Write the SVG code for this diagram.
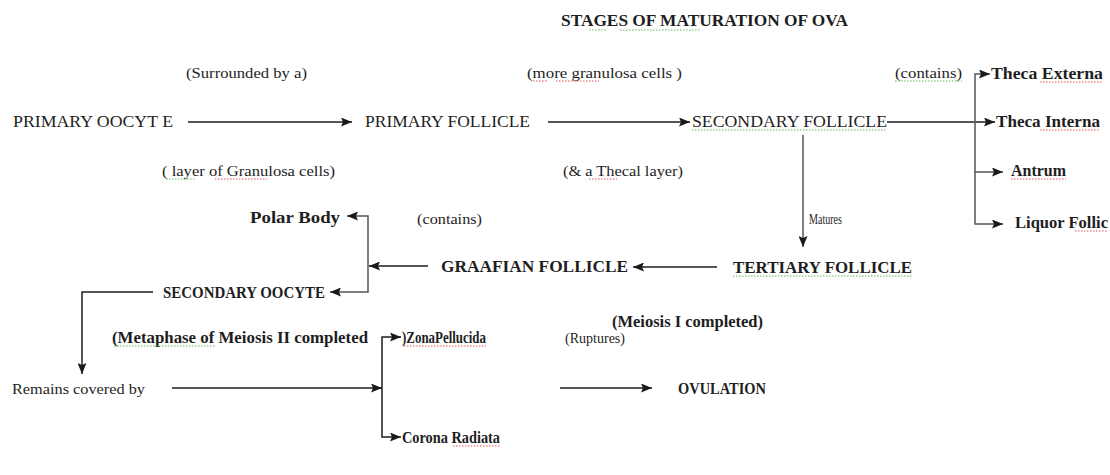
<svg xmlns="http://www.w3.org/2000/svg" width="1110" height="475" viewBox="0 0 1110 475">
<defs>
<marker id="ah" viewBox="0 0 11 9" refX="11" refY="4.5" markerWidth="11" markerHeight="9" markerUnits="userSpaceOnUse" orient="auto"><path d="M0,0 L11,4.5 L0,9 L2,4.5 z" fill="#1a1a1a"/></marker>
<style>
.t text{fill:#1e1e1e}
.b{font-weight:bold;font-size:16.5px}
.r{font-size:15.5px;fill:#2a2a2a}
.n{font-size:17px}
.c{fill:none;stroke:#1e1e1e;stroke-width:1.5}
.v{fill:none;stroke:#555;stroke-width:1.5}
.red{stroke:#e05050;stroke-width:1;stroke-dasharray:1.5 1.5;fill:none}
.grn{stroke:#5cb85c;stroke-width:1;stroke-dasharray:1.5 1.5;fill:none}
</style>
</defs>
<rect width="1110" height="475" fill="#fff"/>
<g class="t" font-family="'Liberation Serif', 'DejaVu Serif', 'Times New Roman', serif">
<g id="title"><text class="b" x="561" y="26" textLength="287" lengthAdjust="spacingAndGlyphs">STAGES OF  MATURATION OF OVA</text></g>
<g id="lbl-surrounded"><text class="r" x="186" y="78" textLength="121" lengthAdjust="spacingAndGlyphs">(Surrounded by a)</text></g>
<g id="lbl-more"><text class="r" x="527" y="78" textLength="155" lengthAdjust="spacingAndGlyphs">(more granulosa cells )</text></g>
<g id="lbl-contains1"><text class="r" x="895" y="78" textLength="67" lengthAdjust="spacingAndGlyphs">(contains)</text></g>
<g id="theca-externa"><text class="b" x="991" y="79" textLength="112" lengthAdjust="spacingAndGlyphs">Theca Externa</text></g>
<g id="primary-oocyte"><text class="n" x="13" y="127" textLength="160" lengthAdjust="spacingAndGlyphs">PRIMARY OOCYT E</text></g>
<g id="primary-follicle"><text class="n" x="365" y="127" textLength="165" lengthAdjust="spacingAndGlyphs">PRIMARY FOLLICLE</text></g>
<g id="secondary-follicle"><text class="n" x="692" y="127" textLength="195" lengthAdjust="spacingAndGlyphs">SECONDARY  FOLLICLE</text></g>
<g id="theca-interna"><text class="b" x="996" y="127" textLength="104" lengthAdjust="spacingAndGlyphs">Theca Interna</text></g>
<g id="lbl-layer"><text class="r" x="162" y="176" textLength="173" lengthAdjust="spacingAndGlyphs">( layer of Granulosa cells)</text></g>
<g id="lbl-thecal"><text class="r" x="563" y="176" textLength="120" lengthAdjust="spacingAndGlyphs">(&amp; a Thecal layer)</text></g>
<g id="antrum"><text class="b" x="1011" y="176" textLength="55" lengthAdjust="spacingAndGlyphs">Antrum</text></g>
<g id="lbl-matures"><text class="r" x="809" y="224" textLength="33" lengthAdjust="spacingAndGlyphs">Matures</text></g>
<g id="liquor"><text class="b" x="1015" y="228" textLength="93" lengthAdjust="spacingAndGlyphs">Liquor Follic</text></g>
<g id="polar-body"><text class="b" x="250" y="223" textLength="90" lengthAdjust="spacingAndGlyphs">Polar Body</text></g>
<g id="lbl-contains2"><text class="r" x="417" y="224" textLength="65" lengthAdjust="spacingAndGlyphs">(contains)</text></g>
<g id="graafian"><text class="b" x="441" y="272" textLength="187" lengthAdjust="spacingAndGlyphs">GRAAFIAN  FOLLICLE</text></g>
<g id="tertiary"><text class="b" x="733" y="273" textLength="179" lengthAdjust="spacingAndGlyphs">TERTIARY  FOLLICLE</text></g>
<g id="secondary-oocyte"><text class="b" x="163" y="298" textLength="162" lengthAdjust="spacingAndGlyphs">SECONDARY OOCYTE</text></g>
<g id="lbl-meiosis1"><text class="b" x="612" y="327" textLength="151" lengthAdjust="spacingAndGlyphs">(Meiosis I completed)</text></g>
<g id="lbl-metaphase"><text class="b" x="112" y="343" textLength="256" lengthAdjust="spacingAndGlyphs">(Metaphase  of Meiosis II completed</text></g>
<g id="zona"><text class="b" x="402" y="343" textLength="84" lengthAdjust="spacingAndGlyphs">)ZonaPellucida</text></g>
<g id="lbl-ruptures"><text class="r" x="565" y="343" textLength="60" lengthAdjust="spacingAndGlyphs">(Ruptures)</text></g>
<g id="remains"><text class="r" x="12" y="394" textLength="133" lengthAdjust="spacingAndGlyphs">Remains covered by</text></g>
<g id="ovulation"><text class="b" x="678" y="394" textLength="88" lengthAdjust="spacingAndGlyphs">OVULATION</text></g>
<g id="corona"><text class="b" x="402" y="443" textLength="98" lengthAdjust="spacingAndGlyphs">Corona Radiata</text></g>
</g>
<g id="squiggles">
<path class="grn" d="M589,30 H606 M620,30 H700"/>
<path class="red" d="M533,81 H548 M556,81 H599"/>
<path class="red" d="M215,179 H267"/>
<path class="grn" d="M166,179 H195"/>
<path class="red" d="M589,179 H617"/>
<path class="grn" d="M895,81 H962"/>
<path class="red" d="M1040,82 H1103"/>
<path class="red" d="M1040,130 H1100"/>
<path class="grn" d="M692,130 H887"/>
<path class="red" d="M1011,179 H1066"/>
<path class="red" d="M1075,231 H1108"/>
<path class="grn" d="M733,276 H912"/>
<path class="grn" d="M114,346 H215"/>
<path class="red" d="M404,346 H486"/>
<path class="red" d="M453,446 H500"/>
</g>
<g id="connectors">
<path class="c" d="M188,122 H352" marker-end="url(#ah)"/>
<path class="c" d="M548,122 H690" marker-end="url(#ah)"/>
<path class="c" d="M887,122 H995" marker-end="url(#ah)"/>
<path class="v" d="M975,122 V74 H990" marker-end="url(#ah)"/>
<path class="v" d="M975,122 V172 H1003" marker-end="url(#ah)"/>
<path class="v" d="M975,172 V224 H1003" marker-end="url(#ah)"/>
<path class="v" d="M803,135 V247" marker-end="url(#ah)"/>
<path class="c" d="M717,267 H633" marker-end="url(#ah)"/>
<path class="c" d="M428,266 H369" marker-end="url(#ah)"/>
<path class="v" d="M368,266 V216 H347" marker-end="url(#ah)"/>
<path class="v" d="M368,266 V292 H330" marker-end="url(#ah)"/>
<path class="c" d="M153,292 H82 V374" marker-end="url(#ah)"/>
<path class="c" d="M172,388 H382" marker-end="url(#ah)"/>
<path class="c" d="M382,388 V337 H401" marker-end="url(#ah)"/>
<path class="c" d="M382,388 V437 H401" marker-end="url(#ah)"/>
<path class="c" d="M560,388 H652" marker-end="url(#ah)"/>
</g>
</svg>
